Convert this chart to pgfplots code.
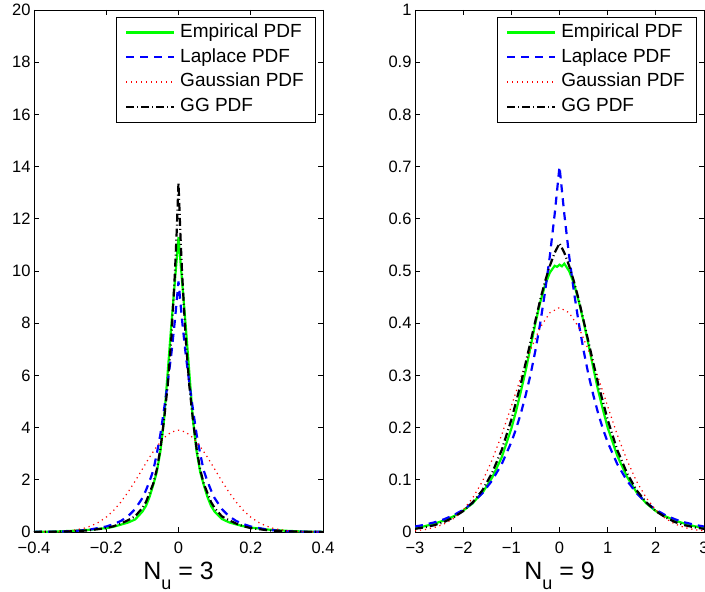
\documentclass[border=0pt]{standalone}
\usepackage{fontspec}
\setmainfont{Liberation Sans}
\usepackage{pgfplots}
\pgfplotsset{compat=1.18}
\definecolor{mgreen}{rgb}{0,1,0}
\definecolor{mred}{rgb}{1,0,0}
\pgfplotsset{legend image code/.code={\draw[#1] (0pt,0pt) -- (48pt,0pt);}}
\pgfplotsset{
  mystyle/.style={
    scale only axis, width=289pt, height=522pt,
    axis line style={line width=0.8pt},
    tick align=inside, major tick length=5pt,
    tick style={black, line width=0.8pt},
    ticklabel style={font=\fontsize{16.5}{16.5}\selectfont},
    /pgf/number format/assume math mode=true,
    xticklabel style={anchor=base, yshift=-21pt},
    xlabel style={font=\fontsize{25}{25}\selectfont, at={(axis description cs:0.5,0)}, anchor=base, yshift=-47pt},
    legend style={at={(1,1)}, anchor=north east, xshift=-8pt, yshift=-7pt,
      font=\fontsize{19}{19}\selectfont, draw=black,
      inner xsep=9pt, inner ysep=3pt, column sep=3pt,
      nodes={inner xsep=2pt, inner ysep=3.35pt, text height=14pt, text depth=4pt}},
    legend cell align=left,
  },
}
\begin{document}
\begin{tikzpicture}
\begin{axis}[mystyle,
  xmin=-0.4, xmax=0.4, ymin=0, ymax=20,
  xtick={-0.4,-0.2,0,0.2,0.4}, xticklabels={−0.4,−0.2,0,0.2,0.4},
  ytick={0,2,...,20},
  xlabel={N\raisebox{-11pt}{\fontsize{18}{18}\selectfont u} = 3}]
\addplot[color=mgreen, line width=2.2pt, solid] coordinates {(-0.4,0.005)(-0.35,0.015)(-0.3,0.04)(-0.25,0.08)(-0.2,0.15)(-0.18,0.2)(-0.16,0.28)(-0.14,0.36)(-0.12,0.48)(-0.1,0.78)(-0.09,1.0)(-0.08,1.35)(-0.07,1.8)(-0.06,2.3)(-0.05,3.1)(-0.04,4.3)(-0.03,6.1)(-0.02,7.9)(-0.01,9.6)(0,11.3)(0.01,9.6)(0.02,7.9)(0.03,6.1)(0.04,4.3)(0.05,3.1)(0.06,2.3)(0.07,1.8)(0.08,1.35)(0.09,1.0)(0.1,0.78)(0.12,0.5)(0.14,0.37)(0.16,0.29)(0.18,0.22)(0.2,0.17)(0.25,0.09)(0.3,0.045)(0.35,0.015)(0.4,0.005)};
\addlegendentry{Empirical PDF}
\addplot[color=blue, line width=2.2pt, dash pattern=on 8pt off 6pt] coordinates {(-0.4,0.005)(-0.35,0.012)(-0.3,0.03)(-0.25,0.08)(-0.2,0.21)(-0.18,0.3)(-0.16,0.42)(-0.14,0.6)(-0.12,0.88)(-0.1,1.3)(-0.09,1.6)(-0.08,1.95)(-0.07,2.35)(-0.06,3.0)(-0.05,3.75)(-0.04,4.7)(-0.03,5.7)(-0.02,6.8)(-0.01,8.1)(0,9.6)(0.01,8.1)(0.02,6.8)(0.03,5.7)(0.04,4.7)(0.05,3.75)(0.06,3.0)(0.07,2.35)(0.08,1.95)(0.09,1.6)(0.1,1.3)(0.12,0.88)(0.14,0.6)(0.16,0.42)(0.18,0.3)(0.2,0.21)(0.25,0.08)(0.3,0.03)(0.35,0.012)(0.4,0.005)};
\addlegendentry{Laplace PDF}
\addplot[color=mred, line width=1.2pt, dash pattern=on 1.2pt off 3.8pt] coordinates {(-0.4,0.002)(-0.35,0.011)(-0.32,0.028)(-0.3,0.05)(-0.28,0.09)(-0.26,0.15)(-0.24,0.245)(-0.22,0.38)(-0.2,0.57)(-0.18,0.82)(-0.16,1.14)(-0.14,1.52)(-0.12,1.95)(-0.1,2.41)(-0.08,2.87)(-0.06,3.28)(-0.04,3.61)(-0.02,3.83)(0,3.9)(0.02,3.83)(0.04,3.61)(0.06,3.28)(0.08,2.87)(0.1,2.41)(0.12,1.95)(0.14,1.52)(0.16,1.14)(0.18,0.82)(0.2,0.57)(0.22,0.38)(0.24,0.245)(0.26,0.15)(0.28,0.09)(0.3,0.05)(0.32,0.028)(0.35,0.011)(0.4,0.002)};
\addlegendentry{Gaussian PDF}
\addplot[color=black, line width=2.2pt, dash pattern=on 8pt off 3pt on 1pt off 3pt] coordinates {(-0.4,0.004)(-0.35,0.01)(-0.3,0.025)(-0.25,0.06)(-0.2,0.15)(-0.18,0.22)(-0.16,0.32)(-0.14,0.45)(-0.12,0.6)(-0.1,0.92)(-0.09,1.15)(-0.08,1.5)(-0.07,1.85)(-0.06,2.4)(-0.05,3.2)(-0.04,4.3)(-0.03,5.6)(-0.02,7.4)(-0.01,9.9)(-0.005,11.5)(0,13.4)(0.005,11.5)(0.01,9.9)(0.02,7.4)(0.03,5.6)(0.04,4.3)(0.05,3.2)(0.06,2.4)(0.07,1.85)(0.08,1.5)(0.09,1.15)(0.1,0.92)(0.12,0.6)(0.14,0.45)(0.16,0.32)(0.18,0.22)(0.2,0.15)(0.25,0.06)(0.3,0.025)(0.35,0.01)(0.4,0.004)};
\addlegendentry{GG PDF}
\end{axis}
\begin{axis}[mystyle, at={(381pt,0pt)},
  xmin=-3, xmax=3, ymin=0, ymax=1,
  xtick={-3,-2,-1,0,1,2,3}, xticklabels={−3,−2,−1,0,1,2,3},
  ytick={0,0.1,0.2,0.3,0.4,0.5,0.6,0.7,0.8,0.9,1},
  yticklabels={0,0.1,0.2,0.3,0.4,0.5,0.6,0.7,0.8,0.9,1},
  xlabel={N\raisebox{-11pt}{\fontsize{18}{18}\selectfont u} = 9}]
\addplot[color=mgreen, line width=2.2pt, solid] coordinates {(-3,0.008)(-2.8,0.011)(-2.6,0.016)(-2.4,0.022)(-2.2,0.03)(-2,0.041)(-1.8,0.055)(-1.7,0.066)(-1.6,0.075)(-1.4,0.104)(-1.2,0.143)(-1,0.198)(-0.9,0.232)(-0.8,0.27)(-0.7,0.31)(-0.6,0.355)(-0.5,0.4)(-0.4,0.44)(-0.3,0.473)(-0.2,0.497)(-0.1,0.51)(-0.05,0.508)(0,0.512)(0.05,0.509)(0.1,0.514)(0.2,0.5)(0.3,0.476)(0.4,0.442)(0.5,0.403)(0.6,0.36)(0.7,0.315)(0.8,0.272)(0.9,0.235)(1,0.2)(1.2,0.146)(1.4,0.106)(1.6,0.076)(1.8,0.055)(2,0.04)(2.2,0.03)(2.4,0.022)(2.6,0.016)(2.8,0.011)(3,0.008)};
\addlegendentry{Empirical PDF}
\addplot[color=blue, line width=2.2pt, dash pattern=on 8pt off 6pt] coordinates {(-3,0.0105)(-2.8,0.0139)(-2.6,0.0184)(-2.4,0.0243)(-2.2,0.0321)(-2,0.0425)(-1.8,0.0563)(-1.6,0.0744)(-1.4,0.0985)(-1.2,0.13)(-1,0.172)(-0.9,0.198)(-0.8,0.228)(-0.7,0.263)(-0.6,0.302)(-0.5,0.348)(-0.4,0.4)(-0.3,0.46)(-0.2,0.529)(-0.1,0.609)(0,0.7)(0.1,0.609)(0.2,0.529)(0.3,0.46)(0.4,0.4)(0.5,0.348)(0.6,0.302)(0.7,0.263)(0.8,0.228)(0.9,0.198)(1,0.172)(1.2,0.13)(1.4,0.0985)(1.6,0.0744)(1.8,0.0563)(2,0.0425)(2.2,0.0321)(2.4,0.0243)(2.6,0.0184)(2.8,0.0139)(3,0.0105)};
\addlegendentry{Laplace PDF}
\addplot[color=mred, line width=1.2pt, dash pattern=on 1.2pt off 3.8pt] coordinates {(-3,0.0023)(-2.8,0.0045)(-2.6,0.0085)(-2.4,0.0152)(-2.2,0.0258)(-2,0.0421)(-1.8,0.0656)(-1.6,0.097)(-1.4,0.138)(-1.2,0.186)(-1,0.241)(-0.8,0.297)(-0.6,0.349)(-0.4,0.392)(-0.2,0.42)(0,0.43)(0.2,0.42)(0.4,0.392)(0.6,0.349)(0.8,0.297)(1,0.241)(1.2,0.186)(1.4,0.138)(1.6,0.097)(1.8,0.0656)(2,0.0421)(2.2,0.0258)(2.4,0.0152)(2.6,0.0085)(2.8,0.0045)(3,0.0023)};
\addlegendentry{Gaussian PDF}
\addplot[color=black, line width=2.2pt, dash pattern=on 8pt off 3pt on 1pt off 3pt] coordinates {(-3,0.006)(-2.8,0.009)(-2.6,0.013)(-2.4,0.019)(-2.2,0.028)(-2,0.04)(-1.8,0.057)(-1.6,0.08)(-1.4,0.113)(-1.2,0.157)(-1,0.215)(-0.9,0.25)(-0.8,0.285)(-0.7,0.325)(-0.6,0.365)(-0.5,0.405)(-0.4,0.445)(-0.3,0.48)(-0.2,0.51)(-0.1,0.535)(0,0.553)(0.1,0.535)(0.2,0.51)(0.3,0.48)(0.4,0.445)(0.5,0.405)(0.6,0.365)(0.7,0.325)(0.8,0.285)(0.9,0.25)(1,0.215)(1.2,0.157)(1.4,0.113)(1.6,0.08)(1.8,0.057)(2,0.04)(2.2,0.028)(2.4,0.019)(2.6,0.013)(2.8,0.009)(3,0.006)};
\addlegendentry{GG PDF}
\end{axis}
\pgfresetboundingbox
\path[use as bounding box] (-34pt,-60pt) rectangle (671pt,532pt);
\end{tikzpicture}
\end{document}
